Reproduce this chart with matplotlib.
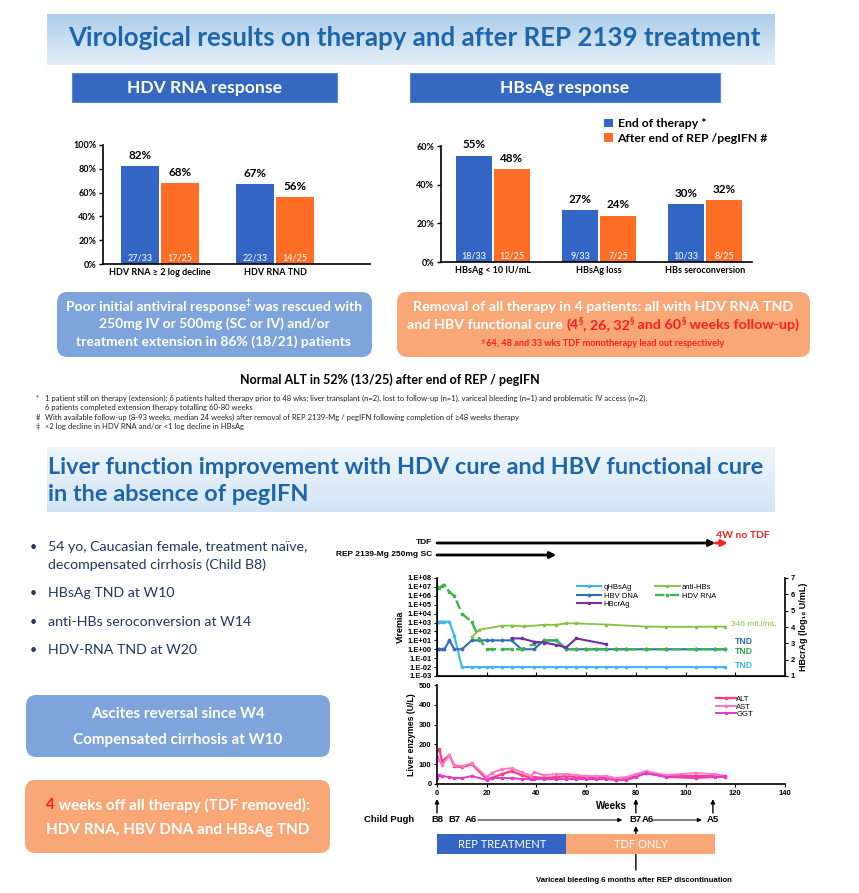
import numpy as np
import matplotlib
matplotlib.use('Agg')
import matplotlib.pyplot as plt
from matplotlib.patches import FancyBboxPatch, Rectangle
from matplotlib.colors import LinearSegmentedColormap
from matplotlib.ticker import FuncFormatter, NullLocator

# ---------------- data: bar panels ----------------
hdv_cats = ['HDV RNA ≥ 2 log decline', 'HDV RNA TND']
hdv_eot = [82, 67]
hdv_after = [68, 56]
hdv_eot_n = ['27/33', '22/33']
hdv_after_n = ['17/25', '14/25']

hbs_cats = ['HBsAg < 10 IU/mL', 'HBsAg loss', 'HBs seroconversion']
hbs_eot = [55, 27, 30]
hbs_after = [48, 24, 32]
hbs_eot_n = ['18/33', '9/33', '10/33']
hbs_after_n = ['12/25', '7/25', '8/25']

# ---------------- data: case study (x = weeks) ----------------
vir_wk = [0, 1, 2, 3, 5, 7, 10, 14, 17, 20, 22, 26, 30, 34, 39, 43, 48, 52,
          56, 60, 64, 68, 72, 76, 84, 92, 104, 112, 116]
qhbsag = [1.1e3, 1.2e3, 1.3e3, 1.2e3, 1.3e3, 3e1, 1e-2, 1e-2, 1e-2, 1e-2, 1e-2,
          1e-2, 1e-2, 1e-2, 1e-2, 1e-2, 1e-2, 1e-2, 1e-2, 1e-2, 1e-2, 1e-2,
          1e-2, 1e-2, 1e-2, 1e-2, 1e-2, 1e-2, 1e-2]
hbv_dna = [1, 1, 1, 1, 10, 1, 1, 10, 10, 10, 10, 10, 10, 1, 1, 10, 10, 1,
           1, 1, 1, 1, 1, 1, 1, 1, 1, 1, 1]
hdv_rna = [1e7, 7e6, 1.3e7, 1.8e7, 2.5e6, 1e6, 1e4, 1.2e3, 1.5e1, 1, 1, 1, 1, 1,
           4, 10, 10, 1, 1, 1, 1, 1, 1, 1, 1, 1, 1, 1, 1]
anti_hbs_wk = [14, 17, 26, 30, 35, 43, 48, 52, 56, 68, 84, 92, 104, 112, 116]
anti_hbs = [23, 155, 430, 460, 360, 560, 560, 800, 800, 600, 350, 330, 330, 350, 346]
hbcrag_wk = [30, 34, 39, 43, 48, 52, 56, 68]
hbcrag = [3.3, 3.3, 3.1, 3.05, 2.9, 2.75, 3.3, 2.95]

enz_wk = [0, 1, 2, 5, 7, 10, 14, 20, 22, 26, 30, 34, 38, 39, 43, 48, 52, 56,
          60, 64, 68, 72, 76, 80, 84, 92, 104, 112, 116]
alt = [170, 175, 115, 145, 90, 85, 100, 25, 30, 50, 65, 45, 30, 35, 30, 35, 40,
       35, 35, 30, 30, 20, 25, 40, 55, 40, 40, 40, 35]
ast = [135, 120, 95, 145, 95, 90, 105, 35, 55, 75, 80, 60, 40, 60, 45, 50, 50,
       45, 40, 40, 40, 30, 35, 50, 65, 45, 55, 50, 40]
ggt = [30, 45, 40, 35, 30, 30, 40, 20, 30, 30, 30, 25, 25, 25, 25, 25, 25, 25,
       25, 25, 25, 20, 20, 35, 55, 35, 30, 35, 40]

rep_weeks = 48
tdf_weeks = 112
off_weeks = 4
cp_labels = ['B8', 'B7', 'A6', 'B7', 'A6', 'A5']
cp_weeks = [0, 7, 13.5, 80, 85, 111]
phases = ['REP TREATMENT', 'TDF ONLY']
phase_start = [0, 52]
phase_end = [52, 112]

# ---------------- style ----------------
SLIDE = ['Lato', 'DejaVu Sans']
ARIAL = ['Liberation Sans', 'DejaVu Sans']
BLUE = '#3366C4'
ORANGE = '#FF6E27'
BOX_BLUE = '#7FA4DB'
BOX_ORANGE = '#F9A777'
TITLE_BLUE = '#1E66AC'
RED = '#FF1F1F'
NAVY = '#1F3864'

W, H = 859, 893
fig = plt.figure(figsize=(W / 100, H / 100), dpi=100)
fig.patch.set_facecolor('white')


def fbox(x0, y0, x1, y1):
    return [x0 / W, 1 - y1 / H, (x1 - x0) / W, (y1 - y0) / H]


def txt(x, y, s, **kw):
    kw.setdefault('family', SLIDE)
    return fig.text(x / W, 1 - y / H, s, **kw)


def rbox(x0, y0, x1, y1, color, r=0.012):
    p = FancyBboxPatch((x0 / W, 1 - y1 / H), (x1 - x0) / W, (y1 - y0) / H,
                       boxstyle=f'round,pad=0,rounding_size={r}',
                       transform=fig.transFigure, facecolor=color, edgecolor='none')
    fig.add_artist(p)


def banner(y0, y1, top, bottom):
    ax = fig.add_axes(fbox(47, y0, 775, y1))
    ax.axis('off')
    cmap = LinearSegmentedColormap.from_list('bn', [top, bottom])
    ax.imshow(np.linspace(0, 1, 60)[:, None], aspect='auto', cmap=cmap,
              extent=[0, 1, 0, 1])


renderer = fig.canvas.get_renderer()


def width_of(s, size, weight):
    t = fig.text(0, 0, '|' + s + '|', fontsize=size, weight=weight, family=SLIDE)
    t2 = fig.text(0, 0, '||', fontsize=size, weight=weight, family=SLIDE)
    w = t.get_window_extent(renderer).width - t2.get_window_extent(renderer).width
    t.remove()
    t2.remove()
    return w


def rich(xc, y, parts, size, weight='bold'):
    # parts: (text, colour, superscript?)
    sizes = [size * 0.62 if sup else size for _, _, sup in parts]
    widths = [width_of(s, fs, weight) for (s, _, _), fs in zip(parts, sizes)]
    x = xc - sum(widths) / 2
    em = size * 100 / 72
    for (s, c, sup), fs, w in zip(parts, sizes, widths):
        txt(x, y - (0.33 * em if sup else 0), s, color=c, fontsize=fs,
            weight=weight, va='center', ha='left')
        x += w


# ---------------- top half ----------------
banner(14, 65, '#AECDEA', '#E4EFF8')
txt(414, 38, 'Virological results on therapy and after REP 2139 treatment',
    fontsize=18.6, weight='bold', color=TITLE_BLUE, ha='center', va='center')

for x0, x1, label in ((72, 337, 'HDV RNA response'), (410, 720, 'HBsAg response')):
    fig.add_artist(Rectangle((x0 / W, 1 - 102 / H), (x1 - x0) / W, 29 / H,
                             transform=fig.transFigure, facecolor='#3568C0',
                             edgecolor='#5B86D0', lw=0.8))
    txt((x0 + x1) / 2, 88, label, fontsize=12.6, weight='bold', color='white',
        ha='center', va='center')


def bar_panel(rect, cats, eot, aft, eot_n, aft_n, ymax, xlim, w):
    ax = fig.add_axes(rect)
    x = np.arange(len(cats))
    g = 0.009
    b1 = ax.bar(x - w / 2 - g, eot, w, color=BLUE, label='End of therapy *')
    b2 = ax.bar(x + w / 2 + g, aft, w, color=ORANGE, label='After end of REP /pegIFN #')
    for bars, vals, ns in ((b1, eot, eot_n), (b2, aft, aft_n)):
        for b, v, n in zip(bars, vals, ns):
            cx = b.get_x() + b.get_width() / 2
            ax.text(cx, v + 0.092 * ymax, f'{v}%', ha='center', va='center',
                    fontsize=8.4, weight='bold', family=SLIDE)
            ax.text(cx, 0.05 * ymax, n, ha='center', va='center', color='white',
                    fontsize=6.5, family=SLIDE)
    ax.set_xlim(*xlim)
    ax.set_ylim(0, ymax)
    ticks = np.arange(0, ymax + 1, 20)
    ax.set_yticks(ticks)
    ax.set_yticklabels([f'{t}%' for t in ticks])
    ax.set_xticks(x)
    ax.set_xticklabels(cats)
    ax.tick_params(axis='x', length=0, pad=3)
    ax.tick_params(axis='y', length=3, width=1, pad=2)
    for lab in ax.get_xticklabels() + ax.get_yticklabels():
        lab.set_family(SLIDE)
        lab.set_weight('bold')
        lab.set_fontsize(6.5)
    for s in ('top', 'right'):
        ax.spines[s].set_visible(False)
    for s in ('left', 'bottom'):
        ax.spines[s].set_linewidth(1.2)
    return ax, b1, b2


bar_panel(fbox(103, 145, 370, 264), hdv_cats, hdv_eot, hdv_after, hdv_eot_n,
          hdv_after_n, 100, (-0.496, 1.826), 0.33)
axb, hb1, hb2 = bar_panel(fbox(441, 146, 752, 262), hbs_cats, hbs_eot, hbs_after,
                          hbs_eot_n, hbs_after_n, 60, (-0.49, 2.44), 0.34)
fig.legend(handles=[hb1, hb2], loc='upper left', bbox_to_anchor=(598 / W, 1 - 112 / H),
           frameon=False, handlelength=0.7, handleheight=0.7, handletextpad=0.4,
           labelspacing=0.3, borderpad=0, prop=dict(family=SLIDE, weight='bold', size=8.8))

rbox(57, 292, 372, 357, BOX_BLUE)
rich(214, 307, [('Poor initial antiviral response', 'white', False), ('‡', 'white', True),
                (' was rescued with', 'white', False)], 10)
txt(214, 324, '250mg IV or 500mg (SC or IV) and/or', fontsize=10, weight='bold',
    color='white', ha='center', va='center')
txt(214, 342, 'treatment extension in 86% (18/21) patients', fontsize=10, weight='bold',
    color='white', ha='center', va='center')

rbox(397, 292, 810, 357, BOX_ORANGE)
txt(603, 307, 'Removal of all therapy in 4 patients: all with HDV RNA TND', fontsize=10.3,
    weight='bold', color='white', ha='center', va='center')
rich(603, 325, [('and HBV functional cure ', 'white', False), ('(4', RED, False),
                ('§', RED, True), (', 26, 32', RED, False), ('§', RED, True),
                (' and 60', RED, False), ('§', RED, True),
                (' weeks follow-up)', RED, False)], 10.3)
rich(603, 344, [('§', RED, True), (' 64, 48 and 33 wks TDF monotherapy lead out respectively', RED, False)], 6.6)

txt(390, 380, 'Normal ALT in 52% (13/25) after end of REP / pegIFN', fontsize=9,
    weight='bold', ha='center', va='center')

foot = [
    (398, '*', '1 patient still on therapy (extension); 6 patients halted therapy prior to 48 wks; liver transplant (n=2), lost to follow-up (n=1), variceal bleeding (n=1) and problematic IV access (n=2).'),
    (407, '', '6 patients completed extension therapy totalling 60-80 weeks'),
    (417, '#', 'With available follow-up (8-93 weeks, median 24 weeks) after removal of REP 2139-Mg / pegIFN following completion of ≥48 weeks therapy'),
    (427, '‡', '<2 log decline in HDV RNA and/or <1 log decline in HBsAg'),
]
for y, mark, line in foot:
    txt(36, y, mark, fontsize=5.5, ha='left', va='center', color='#222222')
    txt(45, y, line, fontsize=5.5, ha='left', va='center', color='#222222')

# ---------------- bottom half ----------------
banner(447, 512, '#EEF5FB', '#D3E5F4')
txt(48, 467, 'Liver function improvement with HDV cure and HBV functional cure',
    fontsize=16.9, weight='bold', color=TITLE_BLUE, ha='left', va='center')
txt(48, 495, 'in the absence of pegIFN', fontsize=16.9, weight='bold',
    color=TITLE_BLUE, ha='left', va='center')

bullets = [(547, '54 yo, Caucasian female, treatment naïve,'),
           (593, 'HBsAg TND at W10'),
           (622, 'anti-HBs seroconversion at W14'),
           (650, 'HDV-RNA TND at W20')]
for y, s in bullets:
    txt(30, y, '•', fontsize=9, color=NAVY, va='center')
    txt(48, y, s, fontsize=10.2, color=NAVY, va='center')
txt(48, 565, 'decompensated cirrhosis (Child B8)', fontsize=10.2, color=NAVY, va='center')

rbox(26, 695, 330, 757, BOX_BLUE)
txt(178, 714, 'Ascites reversal since W4', fontsize=11, weight='bold', color='white',
    ha='center', va='center')
txt(178, 740, 'Compensated cirrhosis at W10', fontsize=11, weight='bold', color='white',
    ha='center', va='center')
rbox(25, 780, 330, 853, BOX_ORANGE)
rich(178, 805, [('4', RED, False), (' weeks off all therapy (TDF removed):', 'white', False)], 11)
txt(178, 830, 'HDV RNA, HBV DNA and HBsAg TND', fontsize=11, weight='bold',
    color='white', ha='center', va='center')

# viremia panel
axv = fig.add_axes(fbox(437, 578, 785, 676))
axv.set_yscale('log')
l1, = axv.plot(vir_wk, qhbsag, color='#3FB7F2', lw=1.5, marker='s', ms=1.5, label='qHBsAg')
l2, = axv.plot(vir_wk, hbv_dna, color='#2F6EBA', lw=1.5, marker='D', ms=1.5, label='HBV DNA')
l4, = axv.plot(anti_hbs_wk, anti_hbs, color='#82C341', lw=1.3, marker='s', ms=1.4, label='anti-HBs')
l5, = axv.plot(vir_wk, hdv_rna, color='#3DB54A', lw=1.7, ls=(0, (4, 2.2)), marker='s',
               ms=1.6, label='HDV RNA')
axv.set_xlim(0, 140)
axv.set_ylim(1e-3, 1e8)
axv.set_yticks([10.0 ** k for k in range(-3, 9)])
axv.yaxis.set_minor_locator(NullLocator())
axv.yaxis.set_major_formatter(FuncFormatter(lambda v, p: '1.E%+03d' % int(round(np.log10(v)))))
axv.set_xticks(range(0, 141, 20))
axv.set_xticklabels([])
axv.tick_params(axis='x', direction='in', length=3)
axv.tick_params(axis='y', length=2.5, pad=1.5)
for lab in axv.get_yticklabels():
    lab.set_family(ARIAL)
    lab.set_weight('bold')
    lab.set_fontsize(5.4)
axv.set_ylabel('Viremia', family=ARIAL, weight='bold', fontsize=6.5, labelpad=2)
for s in ('top', 'right'):
    axv.spines[s].set_visible(False)
axv.patch.set_alpha(0)

axr = axv.twinx()
l3, = axr.plot(hbcrag_wk, hbcrag, color='#7030A0', lw=1.5, marker='s', ms=1.4, label='HBcrAg')
axr.set_ylim(1, 7)
axr.set_yticks(range(1, 8))
axr.tick_params(axis='y', length=2.5, pad=1.5)
for lab in axr.get_yticklabels():
    lab.set_family(ARIAL)
    lab.set_weight('bold')
    lab.set_fontsize(5.4)
axr.set_ylabel('HBcrAg (log₁₀ U/mL)', family=ARIAL, weight='bold', fontsize=6.5, labelpad=3)
axr.spines['top'].set_visible(False)
for s in ('left', 'bottom', 'right'):
    axv.spines[s].set_linewidth(1.2)
axr.spines['right'].set_linewidth(1.2)
axr.legend(handles=[l1, l2, l3, l4, l5], ncol=2, loc='upper left',
           bbox_to_anchor=(573 / W, 1 - 580 / H), bbox_transform=fig.transFigure,
           frameon=False, handlelength=3.2, handletextpad=0.3, columnspacing=2.3,
           labelspacing=0.15, borderpad=0, prop=dict(family=ARIAL, size=5.5))

txt(731, 625, '346 mIU/mL', family=ARIAL, fontsize=6, color='#82C341', va='center')
txt(735, 642, 'TND', family=ARIAL, fontsize=6.2, weight='bold', color='#2F6EBA', va='center')
txt(735, 652, 'TND', family=ARIAL, fontsize=6.2, weight='bold', color='#2EA84A', va='center')
txt(735, 666, 'TND', family=ARIAL, fontsize=6.2, weight='bold', color='#3FB7F2', va='center')

# liver enzymes panel
axe = fig.add_axes(fbox(437, 685, 785, 784))
axe.plot(enz_wk, alt, color='#FF3D7F', lw=1.6, marker='s', ms=1.5, label='ALT')
axe.plot(enz_wk, ast, color='#FF77C8', lw=1.4, marker='s', ms=1.5, label='AST')
axe.plot(enz_wk, ggt, color='#E03CC8', lw=1.4, marker='s', ms=1.5, label='GGT')
axe.set_xlim(0, 140)
axe.set_ylim(0, 500)
axe.set_xticks(range(0, 141, 20))
axe.set_yticks(range(0, 501, 100))
axe.tick_params(length=2.5, pad=1.5)
for lab in axe.get_xticklabels() + axe.get_yticklabels():
    lab.set_family(ARIAL)
    lab.set_weight('bold')
    lab.set_fontsize(5.4)
axe.set_xlabel('Weeks', family=ARIAL, weight='bold', fontsize=7, labelpad=3)
axe.set_ylabel('Liver enzymes (U/L)', family=ARIAL, weight='bold', fontsize=6.3, labelpad=2)
for s in ('top', 'right'):
    axe.spines[s].set_visible(False)
for s in ('left', 'bottom'):
    axe.spines[s].set_linewidth(1.2)
axe.legend(loc='upper left', bbox_to_anchor=(712 / W, 1 - 692 / H),
           bbox_transform=fig.transFigure, frameon=False, handlelength=2.6,
           handletextpad=0.1, labelspacing=0.0, borderpad=0,
           prop=dict(family=ARIAL, size=5.5))

# treatment timeline overlay (x in weeks, y in slide pixels)
ov = fig.add_axes(fbox(437, 520, 785, 893))
ov.set_xlim(0, 140)
ov.set_ylim(893, 520)
ov.axis('off')

ov.annotate('', xy=(tdf_weeks, 543), xytext=(0, 543),
            arrowprops=dict(arrowstyle='-|>', color='black', lw=2, mutation_scale=9,
                            shrinkA=0, shrinkB=0))
ov.annotate('', xy=(tdf_weeks + off_weeks + 1, 543), xytext=(tdf_weeks, 543),
            arrowprops=dict(arrowstyle='-|>', color=RED, lw=2, mutation_scale=9,
                            shrinkA=0, shrinkB=0))
ov.annotate('', xy=(rep_weeks, 555), xytext=(0, 555),
            arrowprops=dict(arrowstyle='-|>', color='black', lw=2, mutation_scale=9,
                            shrinkA=0, shrinkB=0))
txt(716, 535, '4W no TDF', family=SLIDE, fontsize=7.5, weight='bold', color=RED, va='center')
txt(432, 543, 'TDF', family=ARIAL, fontsize=6, weight='bold', ha='right', va='center')
txt(432, 555, 'REP 2139-Mg 250mg SC', family=ARIAL, fontsize=6, weight='bold',
    ha='right', va='center')

txt(414, 820, 'Child Pugh', family=ARIAL, fontsize=6.8, weight='bold', ha='right', va='center')
for lab, wk in zip(cp_labels, cp_weeks):
    ov.text(wk, 820, lab, family=ARIAL, fontsize=6.8, weight='bold', ha='center',
            va='center', clip_on=False)
for a, b in ((cp_weeks[2] + 3, cp_weeks[3] - 5.5), (cp_weeks[4] + 2, cp_weeks[5] - 4.5)):
    ov.annotate('', xy=(b, 820), xytext=(a, 820),
                arrowprops=dict(arrowstyle='-|>', color='black', lw=0.7, mutation_scale=6,
                                shrinkA=0, shrinkB=0))
for wk in (cp_weeks[0], cp_weeks[3], cp_weeks[5]):
    ov.annotate('', xy=(wk, 799), xytext=(wk, 813),
                arrowprops=dict(arrowstyle='-|>', color='black', lw=1, mutation_scale=6,
                                shrinkA=0, shrinkB=0))

ov.annotate('', xy=(cp_weeks[3], 826), xytext=(cp_weeks[3], 870), zorder=1,
            arrowprops=dict(arrowstyle='-|>', color='black', lw=1, mutation_scale=6,
                            shrinkA=0, shrinkB=0))
for name, a, b, col in zip(phases, phase_start, phase_end, (BLUE, BOX_ORANGE)):
    ov.add_patch(Rectangle((a, 834), b - a, 20, facecolor=col, edgecolor='none', zorder=3))
    ov.text((a + b) / 2, 844.5, name, family=SLIDE, fontsize=8, color='white',
            ha='center', va='center', zorder=4)
txt(634, 880, 'Variceal bleeding 6 months after REP discontinuation', family=ARIAL,
    fontsize=5.6, weight='bold', ha='center', va='center')

fig.savefig('out.png', dpi=100)
